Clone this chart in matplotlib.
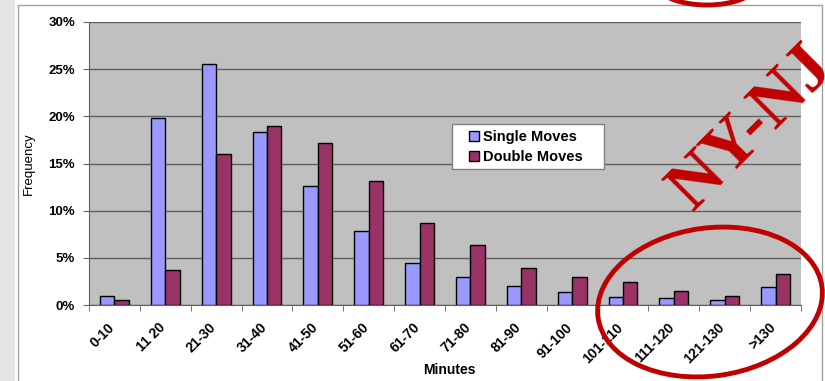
import matplotlib
matplotlib.use('Agg')
import matplotlib.pyplot as plt
import numpy as np
from matplotlib.patches import Ellipse, Rectangle
from matplotlib.transforms import IdentityTransform, ScaledTranslation

plt.rcParams['font.family'] = ['Liberation Sans', 'DejaVu Sans']

# 数据
categories = ['0-10', '11 20', '21-30', '31-40', '41-50', '51-60', '61-70', '71-80',
              '81-90', '91-100', '101-110', '111-120', '121-130', '>130']
single_moves = [1.0, 19.8, 25.6, 18.3, 12.6, 7.8, 4.5, 3.0, 2.0, 1.4, 0.9, 0.75, 0.55, 1.9]
double_moves = [0.5, 3.7, 16.0, 19.0, 17.2, 13.1, 8.7, 6.4, 3.9, 3.0, 2.4, 1.5, 1.0, 3.25]
y_ticks = [0, 5, 10, 15, 20, 25, 30]

fig = plt.figure(figsize=(8.25, 3.81), dpi=100)
fig.patch.set_facecolor('white')

# 左边灰色背景 + 图表外框
fig.patches.append(Rectangle((0, 0), 15 / 825, 1, transform=fig.transFigure,
                             facecolor='#e4e4e4', edgecolor='none', zorder=-2))
fig.patches.append(Rectangle((18 / 825, -0.05), 804 / 825, 1 - 5 / 381 + 0.05,
                             transform=fig.transFigure, facecolor='white',
                             edgecolor='#a0a0a0', lw=1, zorder=-1))

ax = fig.add_axes([89 / 825, 1 - 305 / 381, 712 / 825, 283 / 381])
ax.set_zorder(1)
ax.set_facecolor('#c0c0c0')

x = np.arange(len(categories))
w = 0.285
ax.bar(x - w / 2, single_moves, w, color='#9999ff', edgecolor='black', lw=1,
       label='Single Moves', zorder=3)
ax.bar(x + w / 2, double_moves, w, color='#993366', edgecolor='black', lw=1,
       label='Double Moves', zorder=3)

ax.set_xlim(-0.5, len(categories) - 0.5)
ax.set_ylim(0, 30)
ax.set_yticks(y_ticks)
ax.set_yticklabels([f'{v}%' for v in y_ticks], fontsize=9.5, fontweight='bold')
ax.grid(axis='y', color='#606060', lw=1, zorder=1)

ax.set_xticks(x)
ax.set_xticklabels(categories, rotation=45, ha='right', rotation_mode='anchor',
                   fontsize=10, fontweight='bold')
ax.tick_params(axis='x', length=0, pad=11)
shift = ScaledTranslation(-7 / 100, 0, fig.dpi_scale_trans)
for lab in ax.get_xticklabels():
    lab.set_transform(lab.get_transform() + shift)
ax.set_xticks(np.arange(-0.5, len(categories)), minor=True)
ax.tick_params(axis='x', which='minor', length=4, color='#606060')
ax.tick_params(axis='y', length=4, color='#606060', pad=6)

for s in ['top', 'right']:
    ax.spines[s].set_visible(False)
ax.spines['left'].set_color('#606060')
ax.spines['bottom'].set_color('#606060')

ax.set_ylabel('Frequency', fontsize=9.5, labelpad=10)
ax.set_xlabel('Minutes', fontsize=10, fontweight='bold')
ax.xaxis.set_label_coords((449 - 89) / 712, -(370 - 305) / 283)
ax.xaxis.label.set_va('center')

# 图例：白色方框单独画
ax.add_patch(Rectangle(((452 - 89) / 712, (305 - 169) / 283), 152 / 712, 45 / 283,
                       transform=ax.transAxes, facecolor='white', edgecolor='#808080',
                       lw=1, zorder=4, clip_on=False))
leg = ax.legend(loc='center left', bbox_to_anchor=((469 - 89) / 712, (305 - 147) / 283),
                prop={'weight': 'bold', 'size': 10.5}, frameon=False,
                handlelength=0.7, handleheight=0.7, handletextpad=0.25,
                borderpad=0, labelspacing=0.45, borderaxespad=0)
leg.set_zorder(5)

# 红色标注
idt = IdentityTransform()
fig.patches.append(Ellipse((710, 381 - 302), 226, 148, angle=8, transform=idt,
                           fill=False, edgecolor='#c00000', lw=3.5, zorder=10))
fig.patches.append(Ellipse((707, 381 + 16), 100, 42, transform=idt,
                           fill=False, edgecolor='#c00000', lw=3.5, zorder=10))
fig.text(752, 381 - 128, 'NY-NJ', transform=idt, rotation=45, ha='center', va='center',
         fontsize=50, fontweight='bold', family='Liberation Serif', color='#c00000', zorder=11)

fig.savefig('out.png', dpi=100)
